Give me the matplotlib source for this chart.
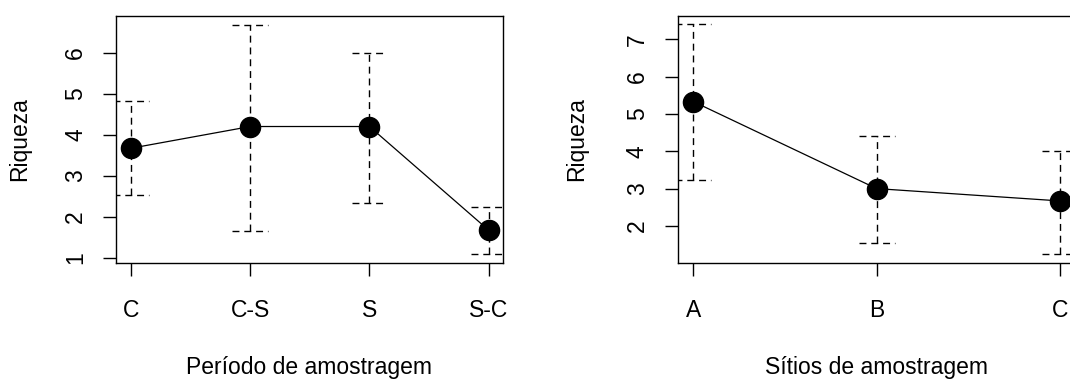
import matplotlib
matplotlib.use('Agg')
import matplotlib.pyplot as plt

# dados
periodos = ['C', 'C-S', 'S', 'S-C']
riq_periodo = [3.67, 4.2, 4.2, 1.67]
sup_periodo = [4.83, 6.67, 6.0, 2.24]
inf_periodo = [2.53, 1.66, 2.34, 1.09]

sitios = ['A', 'B', 'C']
riq_sitio = [5.33, 3.0, 2.67]
sup_sitio = [7.40, 4.40, 4.02]
inf_sitio = [3.23, 1.54, 1.24]

plt.rcParams['font.family'] = ['Liberation Sans', 'DejaVu Sans']
plt.rcParams['font.size'] = 16.5

fig = plt.figure(figsize=(10.7, 3.79), dpi=100)


def painel(ax, nomes, media, sup, inf, xlab, yt, ylim, xlim, cap):
    x = list(range(1, len(nomes) + 1))
    # barras de erro tracejadas
    ax.vlines(x, inf, sup, colors='black', linestyles=(0, (5, 3.5)), lw=1)
    xi = [v - cap for v in x]
    xf = [v + cap for v in x]
    ax.hlines(sup, xi, xf, colors='black', linestyles=(0, (5, 3.5)), lw=1)
    ax.hlines(inf, xi, xf, colors='black', linestyles=(0, (5, 3.5)), lw=1)
    ax.plot(x, media, color='black', lw=0.9, marker='o', ms=14.5, zorder=3)
    ax.set_xlim(xlim)
    ax.set_ylim(ylim)
    ax.set_xticks(x)
    ax.set_xticklabels(nomes)
    ax.set_yticks(yt)
    ax.tick_params(axis='both', direction='out', length=9.7, width=1, color='black')
    ax.tick_params(axis='x', pad=16)
    ax.tick_params(axis='y', labelrotation=90, pad=11)
    for t in ax.get_yticklabels():
        t.set_va('center')
    for s in ax.spines.values():
        s.set_linewidth(1)
        s.set_color('black')
    ax.set_xlabel(xlab, va='baseline')
    ax.xaxis.set_label_coords(0.5, -0.449)
    ax.set_ylabel('Riqueza', va='center')


ax1 = fig.add_axes([0.1084, 0.306, 0.3617, 0.6517])
painel(ax1, periodos, riq_periodo, sup_periodo, inf_periodo,
       'Período de amostragem', [1, 2, 3, 4, 5, 6], (0.87, 6.895), (0.874, 4.12), 0.15)
ax1.yaxis.set_label_coords(-0.25, 0.5)

ax2 = fig.add_axes([0.6334, 0.3053, 0.3719, 0.6533])
painel(ax2, sitios, riq_sitio, sup_sitio, inf_sitio,
       'Sítios de amostragem', [2, 3, 4, 5, 6, 7], (1.0, 7.63), (0.915, 3.086), 0.098)
ax2.yaxis.set_label_coords(-0.255, 0.5)

fig.savefig('out.png', dpi=100)
